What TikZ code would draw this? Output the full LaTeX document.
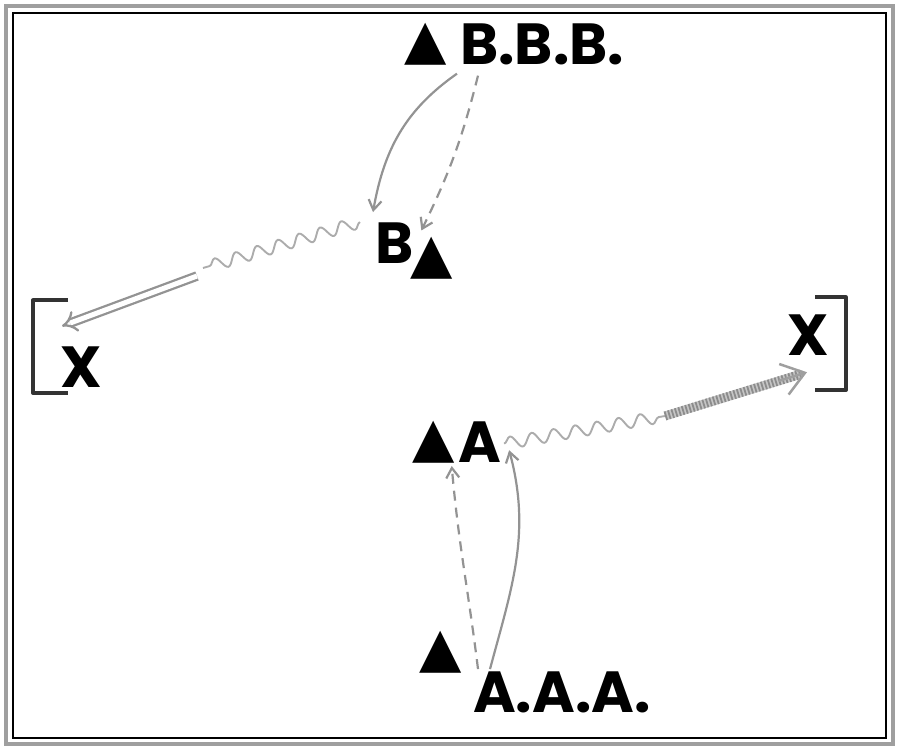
\documentclass[tikz,border=0pt]{standalone}
\usepackage{fontspec}
\setmainfont{Poppins}
\newfontfamily\symfont{DejaVu Sans}
\usetikzlibrary{arrows.meta,decorations.pathmorphing,calc}
\tikzset{
  lbl/.style={font=\fontsize{58}{58}\selectfont\bfseries, inner sep=0pt, anchor=base west},
  tri/.style={font=\symfont\fontsize{55}{55}\selectfont, inner sep=0pt, anchor=base west},
  conn/.style={draw=gray!85, line width=2.2, -{Straight Barb[length=10,width=13,line width=2.2]}},
  dconn/.style={conn, dash pattern=on 10pt off 7pt},
  wave/.style={draw=gray!65, line width=1.9, decorate, decoration={snake, amplitude=6, segment length=22}},
  brk/.style={draw=black!80, line width=3.5, line join=round},
}
\begin{document}
\begin{tikzpicture}[x=1pt,y=-1pt]
\useasboundingbox (0,0) rectangle (900,752);
% frame
\draw[gray!75, line width=4.5] (6,6) rectangle (893,744);
\draw[black, line width=1.3] (13,13) rectangle (886,738);
% nodes
\node[tri] (t1) at (404,59) {▲};
\node[lbl] (bbb) at (460,65) {B.B.B.};
\node[lbl] (b) at (375,263) {B};
\node[tri] (t2) at (410,272) {▲};
\node[lbl] (xl) at (60,387) {X};
\node[lbl] (xr) at (787,355) {X};
\node[tri] (t3) at (412,456) {▲};
\node[lbl] (a) at (458,462) {A};
\node[tri] (t4) at (419,666) {▲};
\node[lbl] (aaa) at (473,712) {A.A.A.};
\coordinate (k1) at (203,268);
\coordinate (k2) at (665,416);
% brackets
\draw[brk] ([shift={(8,-87)}]xl.south west) -- ++(-35,0) -- ++(0,93) -- ++(35,0);
\draw[brk] ([shift={(28,-58)}]xr.south west) -- ++(31,0) -- ++(0,93) -- ++(-31,0);
% B.B.B. -> B
\draw[conn] ([shift={(-3,8)}]bbb.south west) to[out=215,in=80] ([shift={(-2,-10)}]b.north west);
\draw[dconn] ([shift={(18,10)}]bbb.south west) to[bend left=6] ([shift={(-10,-6)}]t2.north);
% B -> left X
\draw[wave] ([shift={(-15,0)}]b.north west) -- (k1);
\draw[draw=gray!85, line width=2.3, double=white, double distance=5, -{Implies}] ([shift={(-6,8)}]k1) -- ([shift={(2,-20)}]xl.north west);
% A -> right X
\draw[wave] ([shift={(3,2)}]a.east) -- (k2);
\draw[gray!45, line width=9, shorten >=6] (k2) -- ([shift={(20,17)}]xr.south west);
\draw[gray!90, line width=9, dash pattern=on 1.8pt off 1.8pt, shorten >=6] (k2) -- ([shift={(20,17)}]xr.south west);
\draw[gray!75, line width=2.5, -{Straight Barb[length=22,width=32,line width=2.5]}] ($(k2)!0.8!([shift={(20,17)}]xr.south west)$) -- ([shift={(20,17)}]xr.south west);
% A.A.A. -> A
\draw[dconn] ([shift={(5,-2)}]aaa.north west) to[out=97,in=275] ([shift={(-3,3)}]t3.south east);
\draw[conn] ([shift={(17,-2)}]aaa.north west) to[out=75,in=285] ([shift={(8,-12)}]a.south east);
\end{tikzpicture}
\end{document}
